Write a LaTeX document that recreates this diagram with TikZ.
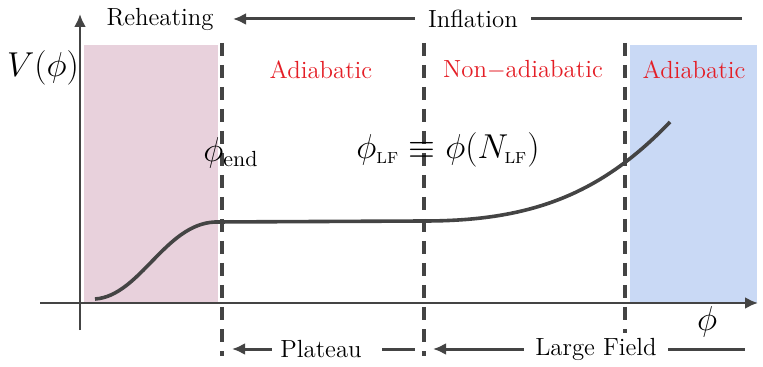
\documentclass[tikz,border=0pt]{standalone}
\usepackage{tikz}
\usetikzlibrary{arrows.meta,positioning,calc}
\definecolor{reheatfill}{HTML}{E8D1DC}
\definecolor{largefill}{HTML}{C9D9F5}
\definecolor{adiared}{HTML}{E41E26}
\definecolor{axisgray}{HTML}{444444}

\begin{document}
\begin{tikzpicture}[x=0.5pt,y=-0.5pt,line width=1.4pt,
 font=\fontsize{12.4}{15}\selectfont,
 mathlab/.style={font=\fontsize{16}{19}\selectfont},
 phase/.style={text=adiared},
 divider/.style={axisgray,line width=1.8pt,dash pattern=on 6.5pt off 4.5pt},
 tip/.style={-{Latex[length=6.5pt,width=6pt]}}]
\useasboundingbox (0,0) rectangle (763,367);
% shaded regions
\fill[reheatfill] (84,45) rectangle (218,303);
\fill[largefill] (630,45) rectangle (757,303);
% axes
\coordinate (ybot) at (80,330); \coordinate (ytop) at (80,14);
\coordinate (xleft) at (40,303); \coordinate (xright) at (758,303);
\draw[axisgray,tip] (ybot)--(ytop);
\draw[axisgray,tip] (xleft)--(xright);
\node[mathlab] (vlab) at (43,68) {$V(\phi)$};
\node[mathlab] (philab) at (707,322) {$\phi$};
% dividers
\foreach \x/\y/\nm in {222/356/end,424/356/lf,625/333/big} {
 \coordinate (\nm top) at (\x,43);
 \coordinate (\nm bot) at (\x,\y);
 \draw[divider] (\nm top)--(\nm bot);
}
% potential
\draw[axisgray,line width=1.8pt] (95,299) .. controls (140,296) and (165,224) .. (215,222)
 -- (424,221) .. controls (530,221) and (600,195) .. (670,122);
% top labels
\node (reheat) at (160,19) {Reheating};
\node[inner xsep=6pt] (infl) at (473,19) {Inflation};
\coordinate (inflend) at (742,19); \coordinate (infltip) at (233,19);
\draw[axisgray,line width=1.5pt] (inflend)--(infl.east);
\draw[axisgray,line width=1.5pt,tip] (infl.west)--(infltip);
\node[phase] (adia1) at (321,70) {Adiabatic};
\node[phase] (nonadia) at (523,70) {Non$-$adiabatic};
\node[phase] (adia2) at (694,70) {Adiabatic};
% field values
\node[mathlab] (phiend) at (231,153) {$\phi_{\mathrm{end}}$};
\node[mathlab] (philf) at (448,150) {$\phi_{\scriptscriptstyle\mathrm{LF}}\equiv\phi(N_{\scriptscriptstyle\mathrm{LF}})$};
% bottom labels
\node[inner xsep=3.5pt] (plat) at (321,349) {Plateau};
\coordinate (plattip) at (232,349); \coordinate (platend) at (415,349);
\draw[axisgray,line width=1.5pt,tip] (plat.west)--(plattip);
\draw[axisgray,line width=1.5pt] ([xshift=6pt]plat.east)--(platend);
\node[inner xsep=5pt] (large) at (596,349) {Large Field};
\coordinate (largetip) at (433,349); \coordinate (largeend) at (745,349);
\draw[axisgray,line width=1.5pt,tip] (large.west)--(largetip);
\draw[axisgray,line width=1.5pt] (large.east)--(largeend);
\end{tikzpicture}
\end{document}
